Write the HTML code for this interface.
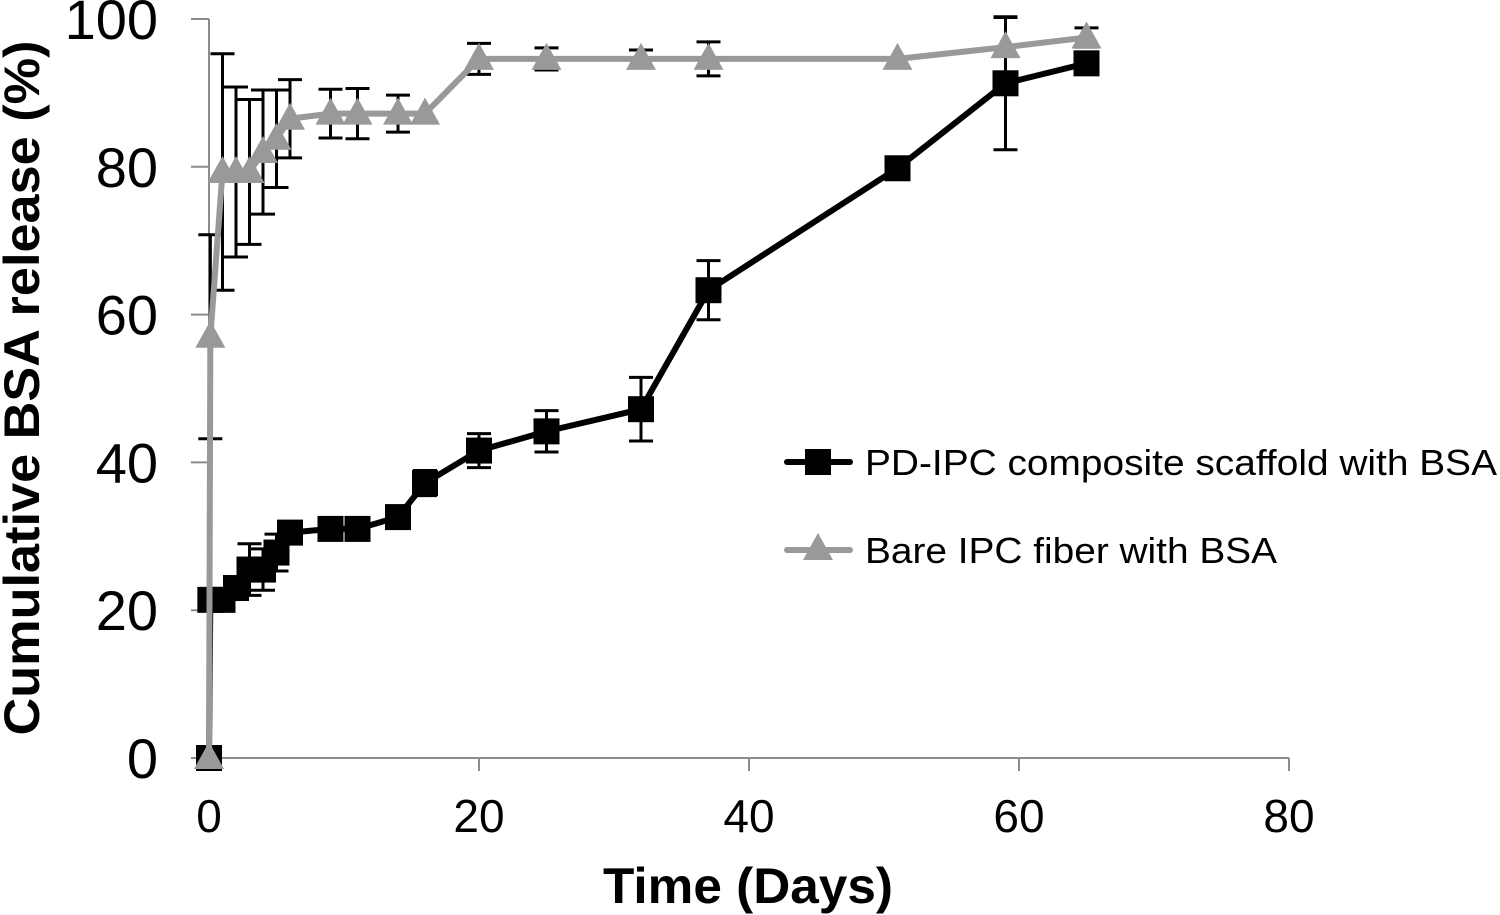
<!DOCTYPE html>
<html><head><meta charset="utf-8"><style>
html,body{margin:0;padding:0;background:#fff;}
svg{display:block;font-family:"Liberation Sans",Arial,sans-serif;}
</style></head><body>
<svg id="chart" width="1500" height="915" viewBox="0 0 1500 915">
<g id="axes"></g>
<g id="series"></g>
<text x="748" y="903" text-anchor="middle" font-size="50" font-weight="bold" textLength="290" lengthAdjust="spacingAndGlyphs">Time (Days)</text>
<text transform="translate(39,388) rotate(-90)" text-anchor="middle" font-size="50" font-weight="bold" textLength="695" lengthAdjust="spacingAndGlyphs">Cumulative BSA release (%)</text>
<g>
<g>
<line x1="787" y1="462" x2="850" y2="462" stroke="#000" stroke-width="6" stroke-linecap="round"/>
<rect x="805" y="449" width="26" height="26" fill="#000"/>
<text x="865" y="475" font-size="36" textLength="632" lengthAdjust="spacingAndGlyphs">PD-IPC composite scaffold with BSA</text>
</g>
<g>
<line x1="787" y1="550" x2="850" y2="550" stroke="#999" stroke-width="6" stroke-linecap="round"/>
<polygon points="818,533 803,560 833,560" fill="#999"/>
<text x="865" y="563" font-size="36" textLength="412" lengthAdjust="spacingAndGlyphs">Bare IPC fiber with BSA</text>
</g>
</g>
</svg>
<script>
const xTicks = [0, 20, 40, 60, 80];
const yTicks = [0, 20, 40, 60, 80, 100];
const compositeDays = [0, 0.1, 1, 2, 3, 4, 5, 6, 9, 11, 14, 16, 20, 25, 32, 37, 51, 59, 65];
const compositeValues = [0, 21.4, 21.4, 23, 25.5, 25.5, 27.8, 30.5, 31, 31, 32.6, 37.2, 41.6, 44.2, 47.2, 63.3, 79.8, 91.3, 94];
const compositeErrors = [0, 1.5, 0, 1.5, 3.5, 2.8, 2.5, 0, 0, 0, 0, 1.7, 2.3, 2.8, 4.3, 4, 0, 9, 0];
const bareDays = [0, 0.1, 1, 2, 3, 4, 5, 6, 9, 11, 14, 16, 20, 25, 32, 37, 51, 59, 65];
const bareValues = [0, 57, 79.3, 79.3, 79.3, 82, 83.8, 86.5, 87.2, 87.2, 87.2, 87.2, 94.6, 94.6, 94.6, 94.6, 94.6, 96.2, 97.5];
const bareErrors = [0, 13.8, 16, 11.5, 9.8, 8.4, 6.6, 5.3, 3.3, 3.4, 2.5, 0, 2.1, 1.5, 1.2, 2.3, 0, 4, 1.3];

const NS = 'http://www.w3.org/2000/svg';
const X = v => 209 + v * 13.5;
const Y = v => 758 - v * 7.39;
function mk(tag, attrs, parent) {
  const el = document.createElementNS(NS, tag);
  for (const k in attrs) el.setAttribute(k, attrs[k]);
  parent.appendChild(el);
  return el;
}
const axes = document.getElementById('axes');
const series = document.getElementById('series');

const yAxis = mk('line', {x1: X(0), y1: Y(0), x2: X(0), y2: Y(100), stroke: '#8c8c8c', 'stroke-width': 2}, axes);


const xAxis = mk('line', {x1: X(0), y1: Y(0), x2: X(80), y2: Y(0), stroke: '#8c8c8c', 'stroke-width': 2}, axes);



yTicks.forEach(t => {
  mk('line', {x1: X(0) - 18, y1: Y(t), x2: X(0), y2: Y(t), stroke: '#8c8c8c', 'stroke-width': 2}, axes);
  const lb = mk('text', {x: 158, y: Y(t) + 20, 'text-anchor': 'end', 'font-size': 56}, axes);
  lb.textContent = t;
  
  
});
xTicks.forEach(t => {
  mk('line', {x1: X(t), y1: Y(0), x2: X(t), y2: Y(0) + 13, stroke: '#8c8c8c', 'stroke-width': 2}, axes);
  const lb = mk('text', {x: X(t), y: 832, 'text-anchor': 'middle', 'font-size': 46}, axes);
  lb.textContent = t;
  
  
});

function errorBars(days, vals, errs, name) {
  const g = mk('g', {}, series);
  
  
  days.forEach((d, i) => {
    if (!errs[i]) return;
    const x = X(d), y1 = Y(vals[i] + errs[i]), y2 = Y(vals[i] - errs[i]);
    mk('line', {x1: x, y1: y1, x2: x, y2: y2, stroke: '#000', 'stroke-width': 3}, g);
    mk('line', {x1: x - 12, y1: y1, x2: x + 12, y2: y1, stroke: '#000', 'stroke-width': 3}, g);
    mk('line', {x1: x - 12, y1: y2, x2: x + 12, y2: y2, stroke: '#000', 'stroke-width': 3}, g);
  });
}
function drawSeries(days, vals, color, marker, name) {
  const g = mk('g', {}, series);
  
  
  const pts = days.map((d, i) => X(d) + ',' + Y(vals[i])).join(' ');
  const pl = mk('polyline', {points: pts, fill: 'none', stroke: color, 'stroke-width': 6, 'stroke-linejoin': 'round'}, g);
  
  
  days.forEach((d, i) => {
    const x = X(d), y = Y(vals[i]);
    let m;
    if (marker === 'square') {
      m = mk('rect', {x: x - 13, y: y - 13, width: 26, height: 26, fill: color}, g);
    } else {
      m = mk('polygon', {points: `${x},${y - 16} ${x - 15},${y + 11} ${x + 15},${y + 11}`, fill: color}, g);
    }
    
    
  });
}
errorBars(compositeDays, compositeValues, compositeErrors, 'composite-error-bars');
drawSeries(compositeDays, compositeValues, '#000', 'square', 'composite-series');
errorBars(bareDays, bareValues, bareErrors, 'bare-error-bars');
drawSeries(bareDays, bareValues, '#999', 'triangle', 'bare-series');
</script>
</body></html>
